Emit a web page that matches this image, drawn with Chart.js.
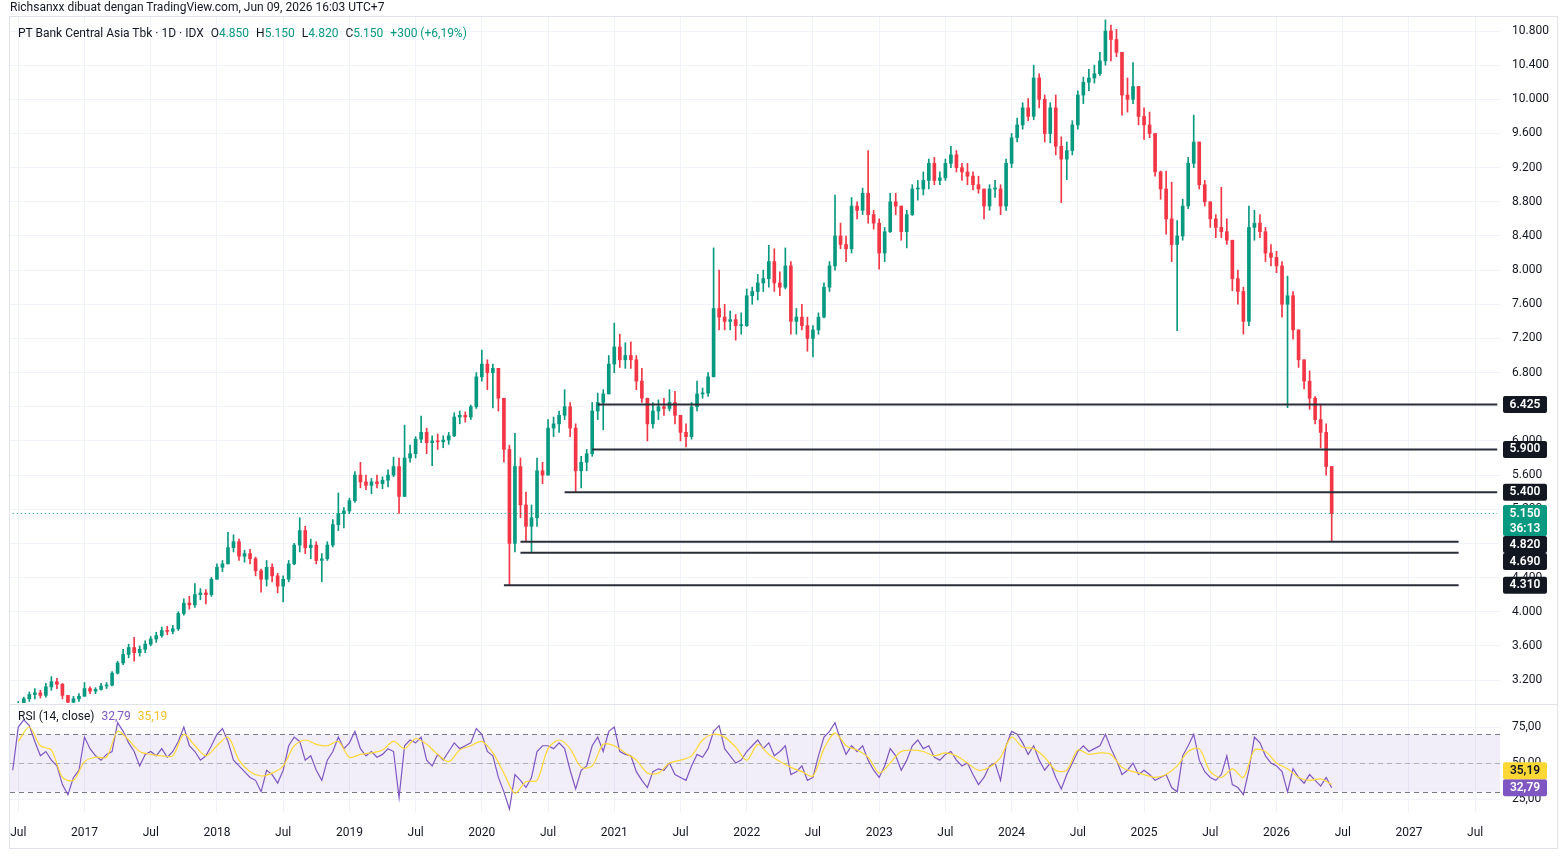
<!DOCTYPE html>
<html>
<head>
<meta charset="utf-8">
<script src="https://cdn.jsdelivr.net/npm/chart.js@4.4.1/dist/chart.umd.min.js"></script>
<style>
html, body { margin: 0; padding: 0; background: #fff; }
body { width: 1567px; height: 862px; position: relative; overflow: hidden;
       font-family: Roboto, "Noto Sans", sans-serif; color: #131722; }
.pane { position: absolute; left: 0; width: 1567px; }
#frame { position: absolute; left: 9px; top: 16px; width: 1549px; height: 833px;
         border: 1px solid #e0e3eb; box-sizing: border-box; }
#sep { position: absolute; left: 10px; top: 704px; width: 1547px; height: 1px; background: #e0e3eb; }
.txt { position: absolute; font-size: 12px; line-height: 14px; white-space: nowrap; z-index: 2; }
.txt span { margin-left: 7px; }
.up { color: #089981; }
</style>
</head>
<body>
<div id="frame"></div>
<div id="sep"></div>
<div class="pane" style="top:0;height:705px"><canvas id="priceChart"></canvas></div>
<div class="pane" style="top:700px;height:150px"><canvas id="rsiChart"></canvas></div>

<div class="txt" style="left:10px;top:0">Richsanxx dibuat dengan TradingView.com, Jun 09, 2026 16:03 UTC+7</div>
<div class="txt" style="left:18px;top:26px">PT Bank Central Asia Tbk · 1D · IDX<span>O<b class="up" style="font-weight:400">4.850</b></span><span>H<b class="up" style="font-weight:400">5.150</b></span><span>L<b class="up" style="font-weight:400">4.820</b></span><span>C<b class="up" style="font-weight:400">5.150</b></span><span class="up">+300 (+6,19%)</span></div>
<div class="txt" style="left:18px;top:709px">RSI (14, close)<span style="color:#7E57C2">32,79</span><span style="color:#F5C02B">35,19</span></div>

<script>
// half-month slots, Jun 2016 (2nd half) .. Jun 2026 (1st half)
const firstOpen = 2900;
const priceLow = [2820,
  2850, 2900, 2950, 2980, 2990, 3000, 3080, 3100, 2980, 2900, 2900, 2950,
  3020, 3040, 3040, 3080, 3100, 3130, 3270, 3380, 3460, 3420, 3480, 3520,
  3600, 3640, 3700, 3730, 3740, 3780, 3960, 4030, 4050, 4140, 4090, 4180,
  4380, 4470, 4560, 4700, 4600, 4580, 4560, 4420, 4230, 4300, 4350, 4220,
  4115, 4350, 4550, 4700, 4680, 4620, 4560, 4350, 4600, 4760, 4950, 4980,
  5150, 5280, 5450, 5430, 5380, 5450, 5440, 5460, 5580, 5150, 5400, 5750,
  5800, 5980, 5850, 5710, 5900, 5920, 5960, 6050, 6200, 6220, 6250, 6380,
  6700, 6600, 6385, 6350, 5750, 4310, 4700, 5100, 4820, 4690, 5000, 5500,
  5650, 6050, 6100, 6250, 6050, 5400, 5450, 5650, 5820, 6250, 6130, 6550,
  6800, 6860, 6850, 6850, 6600, 6450, 6000, 6150, 6250, 6300, 6350, 6200,
  6000, 5930, 6020, 6350, 6500, 6520, 6750, 7300, 7300, 7300, 7180, 7250,
  7340, 7600, 7650, 7750, 7800, 7750, 7700, 7780, 7250, 7250, 7300, 7050,
  6985, 7250, 7440, 7750, 8000, 8250, 8100, 8200, 8600, 8650, 8550, 8480,
  8010, 8100, 8440, 8650, 8350, 8260, 8640, 8820, 8880, 8950, 9000, 9000,
  9050, 9200, 9150, 9050, 9000, 8940, 8900, 8600, 8700, 8850, 8650, 8700,
  9200, 9500, 9650, 9750, 9760, 9900, 9500, 9490, 9350, 8790, 9060, 9350,
  9650, 9950, 10100, 10190, 10280, 10400, 10450, 10500, 9815, 9850, 9950, 9700,
  9530, 9550, 9100, 8830, 8420, 8100, 7290, 8350, 8720, 9200, 8950, 8750,
  8500, 8380, 8380, 8300, 7760, 7600, 7250, 7350, 8350, 8380, 8100, 8050,
  7970, 7450, 6390, 7190, 6860, 6610, 6370, 6200, 5920, 5600, 4820];
const priceHigh = [2920,
  2950, 3000, 3060, 3100, 3080, 3160, 3240, 3220, 3160, 3020, 3010, 3040,
  3170, 3120, 3110, 3160, 3170, 3300, 3420, 3560, 3620, 3700, 3600, 3660,
  3710, 3760, 3820, 3830, 3840, 4000, 4150, 4180, 4330, 4270, 4260, 4400,
  4560, 4600, 4930, 4900, 4850, 4720, 4730, 4640, 4500, 4600, 4560, 4450,
  4420, 4600, 4800, 5100, 5000, 4850, 4820, 4680, 4820, 5080, 5390, 5220,
  5330, 5640, 5750, 5600, 5560, 5600, 5580, 5660, 5810, 5800, 6185, 5950,
  6050, 6290, 6150, 6060, 6080, 6060, 6100, 6330, 6350, 6340, 6420, 6800,
  7065, 6950, 6900, 6850, 6500, 5950, 6090, 5800, 5400, 5250, 5800, 5750,
  6250, 6280, 6350, 6600, 6450, 6200, 5820, 5900, 6450, 6560, 6600, 7000,
  7380, 7250, 7150, 7160, 7000, 6850, 6500, 6450, 6480, 6500, 6600, 6580,
  6300, 6200, 6450, 6700, 6620, 6800, 8260, 8000, 7600, 7520, 7480, 7500,
  7780, 7800, 7950, 8000, 8290, 8250, 7980, 8260, 8100, 7550, 7600, 7450,
  7350, 7500, 7850, 8100, 8880, 8550, 8400, 8850, 8800, 8960, 9400, 8700,
  8600, 8500, 8900, 8900, 8750, 8700, 9000, 9050, 9150, 9300, 9320, 9150,
  9300, 9450, 9400, 9250, 9250, 9150, 9100, 8950, 9000, 9050, 9000, 9300,
  9600, 9780, 9960, 10010, 10400, 10300, 10050, 9960, 10050, 9560, 9500, 9750,
  10100, 10260, 10350, 10400, 10550, 10930, 10870, 10820, 10550, 10250, 10430, 10150,
  9900, 9850, 9600, 9160, 9160, 9030, 8580, 8830, 9320, 9815, 9500, 9050,
  8800, 8650, 8970, 8600, 8350, 8000, 7800, 8750, 8700, 8650, 8500, 8300,
  8220, 8100, 7930, 7750, 7300, 6950, 6820, 6520, 6430, 6200, 5700];
const priceClose = [2880,
  2920, 2980, 3030, 3050, 3020, 3120, 3180, 3150, 3020, 2940, 2980, 3010,
  3100, 3070, 3090, 3130, 3140, 3280, 3400, 3500, 3580, 3520, 3560, 3620,
  3680, 3720, 3780, 3770, 3800, 3980, 4100, 4080, 4200, 4220, 4200, 4380,
  4520, 4560, 4750, 4820, 4650, 4680, 4620, 4480, 4380, 4520, 4420, 4300,
  4380, 4560, 4780, 4950, 4750, 4780, 4600, 4620, 4780, 5020, 5150, 5180,
  5300, 5600, 5520, 5480, 5520, 5500, 5540, 5600, 5700, 5350, 5800, 5850,
  6020, 6100, 5980, 6000, 5990, 6010, 6060, 6280, 6300, 6280, 6400, 6750,
  6900, 6800, 6850, 6500, 5900, 4800, 5700, 5250, 5000, 5100, 5650, 5600,
  6150, 6200, 6300, 6400, 6150, 5650, 5750, 5850, 6350, 6450, 6550, 6900,
  7100, 6950, 7000, 6950, 6700, 6500, 6200, 6350, 6400, 6380, 6450, 6300,
  6100, 6050, 6400, 6550, 6560, 6750, 7550, 7450, 7400, 7420, 7350, 7350,
  7700, 7750, 7850, 7900, 8100, 7850, 7800, 8050, 7400, 7450, 7350, 7200,
  7300, 7450, 7800, 8050, 8400, 8300, 8250, 8750, 8700, 8900, 8650, 8550,
  8200, 8450, 8800, 8750, 8450, 8650, 8950, 8950, 9050, 9250, 9050, 9080,
  9250, 9350, 9200, 9150, 9100, 9000, 8950, 8750, 8950, 8950, 8750, 9250,
  9550, 9700, 9900, 9800, 10250, 10000, 9600, 9900, 9450, 9300, 9400, 9700,
  10050, 10200, 10250, 10300, 10450, 10800, 10700, 10550, 10050, 10000, 10150, 9800,
  9700, 9600, 9150, 8950, 8600, 8300, 8400, 8750, 9250, 9500, 9000, 8800,
  8600, 8500, 8450, 8350, 7900, 7750, 7400, 8500, 8550, 8450, 8200, 8150,
  8050, 7600, 7700, 7300, 6950, 6700, 6500, 6250, 6100, 5700, 5150];

const rsiValues = [45,
  75, 80, 76, 65, 55, 58, 52, 48, 35, 28, 40, 45,
  68, 60, 55, 52, 56, 58, 78, 72, 64, 58, 48, 56,
  58, 55, 60, 54, 58, 65, 75, 62, 58, 52, 55, 62,
  70, 74, 65, 52, 48, 44, 40, 38, 30, 45, 42, 36,
  45, 62, 68, 65, 52, 55, 45, 38, 52, 58, 68, 60,
  64, 72, 60, 55, 58, 54, 56, 60, 58, 26, 62, 66,
  64, 68, 52, 48, 56, 52, 58, 64, 60, 62, 64, 74,
  70, 58, 55, 40, 30, 18, 42, 38, 33, 40, 58, 62,
  62, 60, 64, 60, 45, 32, 45, 48, 62, 68, 58, 72,
  75, 58, 56, 55, 44, 38, 33, 44, 46, 45, 50, 42,
  40, 38, 48, 56, 54, 60, 72, 76, 60, 55, 50, 52,
  58, 62, 66, 60, 64, 55, 58, 62, 42, 44, 48, 38,
  40, 55, 68, 72, 78, 66, 56, 62, 58, 62, 52, 45,
  40, 48, 60, 55, 45, 52, 62, 66, 60, 62, 54, 52,
  56, 58, 52, 48, 50, 42, 35, 40, 48, 50, 38, 62,
  72, 70, 64, 56, 62, 52, 45, 50, 40, 32, 42, 50,
  58, 62, 58, 60, 62, 70, 60, 52, 42, 45, 50, 42,
  45, 42, 38, 40, 42, 33, 30, 55, 62, 70, 52, 44,
  40, 38, 42, 55, 35, 33, 28, 45, 68, 64, 55, 50,
  48, 44, 30, 46, 40, 36, 42, 38, 34, 40, 32.79];

// RSI moving average, one reading per month (Jul 2016 .. Jun 2026)
const rsiMA = [
  65, 75, 62, 59, 40, 38,   51, 54, 54, 72, 66, 58,
  56, 55, 55, 70, 62, 55,   62, 68, 52, 44, 41, 43,
  48, 62, 66, 63, 62, 65,   54, 56, 57, 59, 65, 60,
  67, 63, 56, 51, 59, 62,   65, 57, 43, 29, 37, 38,
  60, 66, 60, 47, 48, 63,   62, 57, 52, 43, 43, 50,
  52, 55, 66, 70, 68, 61,   52, 63, 56, 51, 47, 44,
  41, 60, 71, 62, 59, 54,   43, 50, 58, 59, 58, 55,
  57, 55, 50, 45, 47, 54,   68, 61, 60, 54, 45, 45,
  59, 56, 57, 56, 47, 44,   42, 40, 42, 48, 58, 60,
  44, 40, 46, 40, 59, 58,   50, 46, 40, 38, 39, 35.19];

// drawn horizontal levels
const levelPrices = [6425, 5900, 5400, 4820, 4690, 4310];
const levelStart = ['2020-11-16', '2020-11-01', '2020-08-16', '2020-04-16', '2020-04-16', '2020-03-01'];
const levelEnd = ['2027-09-01', '2027-09-01', '2027-09-01', '2027-05-16', '2027-05-16', '2027-05-16'];
const countdown = '36:13';

const priceTicks = [3200, 3600, 4000, 4400, 4800, 5200, 5600, 6000, 6400, 6800, 7200, 7600,
                    8000, 8400, 8800, 9200, 9600, 10000, 10400, 10800];
const rsiTicks = [25, 50, 75];
const rsiBand = [30, 70];
const rsiMid = 50;

const UP = '#089981';
const DOWN = '#F23645';
const GRID = '#f0f3fa';

// category slots: 1st and 16th of each month
const slotLabels = [];
for (let y = 2016; y <= 2027; y++) {
    for (let m = 1; m <= 12; m++) {
        ['01', '16'].forEach(d => {
            const key = y + '-' + String(m).padStart(2, '0') + '-' + d;
            if (key >= '2016-06-16' && key <= '2027-09-01') slotLabels.push(key);
        });
    }
}

function tickText(label) {
    if (!label || !label.endsWith('-01')) return '';
    const m = label.slice(5, 7);
    if (m === '01') return label.slice(0, 4);
    if (m === '07') return 'Jul';
    return '';
}

function fmtPrice(v) {
    return String(Math.round(v)).replace(/\B(?=(\d{3})+(?!\d))/g, '.');
}

function fmtRsi(v) {
    return v.toFixed(2).replace('.', ',');
}

const opens = priceClose.map((c, i) => i === 0 ? firstOpen : priceClose[i - 1]);
const wickData = priceLow.map((l, i) => [Math.min(l, opens[i], priceClose[i]), Math.max(priceHigh[i], opens[i], priceClose[i])]);
const bodyData = priceClose.map((c, i) => [opens[i], c]);
const candleColors = priceClose.map((c, i) => c >= opens[i] ? UP : DOWN);
const lastClose = priceClose[priceClose.length - 1];

Chart.defaults.font.family = 'Roboto, "Noto Sans", sans-serif';
Chart.defaults.font.size = 12;
Chart.defaults.color = '#131722';

function noPad(s) {
    s.paddingTop = 0;
    s.paddingBottom = 0;
    s.paddingLeft = 0;
    s.paddingRight = 0;
}

function xScale(showLabels) {
    return {
        type: 'category',
        offset: true,
        afterFit: s => { s.height = showLabels ? 38 : 0; noPad(s); },
        grid: {
            offset: false,
            drawTicks: false,
            color: c => tickText(slotLabels[c.index]) ? GRID : 'rgba(0,0,0,0)'
        },
        border: { display: false },
        ticks: {
            display: showLabels,
            autoSkip: false,
            maxRotation: 0,
            padding: 14,
            callback: (v, i) => tickText(slotLabels[i])
        }
    };
}

function yScale(min, max, tickValues, fmt) {
    return {
        position: 'right',
        min: min,
        max: max,
        afterBuildTicks: s => { s.ticks = tickValues.map(v => ({ value: v })); },
        afterFit: s => { s.width = 57; noPad(s); },
        grid: { color: GRID, drawTicks: false },
        border: { display: false },
        ticks: { padding: 12, callback: v => fmt(v) }
    };
}

function drawTag(ctx, top, h, bg, fg, lines) {
    ctx.save();
    ctx.fillStyle = bg;
    ctx.beginPath();
    ctx.roundRect(1503, top, 44, h, 2);
    ctx.fill();
    ctx.fillStyle = fg;
    ctx.font = '600 12px Roboto, "Noto Sans", sans-serif';
    ctx.textAlign = 'center';
    ctx.textBaseline = 'middle';
    lines.forEach((t, k) => ctx.fillText(t, 1525, top + 8.5 + k * 15));
    ctx.restore();
}

const priceTags = {
    id: 'priceTags',
    afterDraw(chart) {
        const y = chart.scales.y;
        const tags = levelPrices.map(p => ({ y: y.getPixelForValue(p), h: 17, bg: '#131722', lines: [fmtPrice(p)] }));
        tags.push({ y: y.getPixelForValue(lastClose), h: 31, bg: UP, lines: [fmtPrice(lastClose), countdown] });
        tags.sort((a, b) => a.y - b.y);
        let prevBottom = -Infinity;
        tags.forEach(t => {
            const top = Math.max(t.y - 8.5, prevBottom);
            prevBottom = top + t.h;
            drawTag(chart.ctx, top, t.h, t.bg, '#ffffff', t.lines);
        });
    }
};

const rsiDecor = {
    id: 'rsiDecor',
    beforeDatasetsDraw(chart) {
        const { ctx, chartArea: a, scales: { y } } = chart;
        const yTop = y.getPixelForValue(rsiBand[1]);
        const yBot = y.getPixelForValue(rsiBand[0]);
        ctx.save();
        ctx.fillStyle = 'rgba(126, 87, 194, 0.1)';
        ctx.fillRect(a.left, yTop, a.right - a.left, yBot - yTop);
        ctx.setLineDash([5, 4]);
        ctx.lineWidth = 1;
        [[rsiBand[1], '#787B86'], [rsiMid, 'rgba(120,123,134,0.5)'], [rsiBand[0], '#787B86']].forEach(([v, col]) => {
            const py = Math.round(y.getPixelForValue(v)) + 0.5;
            ctx.strokeStyle = col;
            ctx.beginPath();
            ctx.moveTo(a.left, py);
            ctx.lineTo(a.right, py);
            ctx.stroke();
        });
        ctx.restore();
    },
    afterDraw(chart) {
        const y = chart.scales.y;
        const rsiLast = rsiValues[rsiValues.length - 1];
        const maLast = rsiMA[rsiMA.length - 1];
        const rTop = y.getPixelForValue(rsiLast) - 8.5;
        let mTop = y.getPixelForValue(maLast) - 8.5;
        if (mTop + 17 > rTop && mTop < rTop + 17) mTop = rTop - 17;
        drawTag(chart.ctx, rTop, 17, '#7E57C2', '#ffffff', [fmtRsi(rsiLast)]);
        drawTag(chart.ctx, mTop, 17, '#FDD835', '#131722', [fmtRsi(maLast)]);
    }
};

const levelSets = levelPrices.map((p, i) => ({
    type: 'line',
    data: [{ x: levelStart[i], y: p }, { x: levelEnd[i], y: p }],
    borderColor: '#2a2e39',
    borderWidth: 2,
    pointRadius: 0,
    order: 0
}));

new Chart(document.getElementById('priceChart'), {
    type: 'bar',
    data: {
        labels: slotLabels,
        datasets: [
            {
                type: 'line',
                data: [{ x: slotLabels[0], y: lastClose }, { x: slotLabels[slotLabels.length - 1], y: lastClose }],
                borderColor: UP,
                borderWidth: 1,
                borderDash: [1, 3],
                pointRadius: 0,
                order: 0
            },
            ...levelSets,
            { data: bodyData, backgroundColor: candleColors, barThickness: 3, minBarLength: 1, grouped: false, order: 1 },
            { data: wickData, backgroundColor: candleColors, barThickness: 1, grouped: false, order: 2 }
        ]
    },
    options: {
        responsive: true,
        maintainAspectRatio: false,
        animation: false,
        devicePixelRatio: 1,
        layout: { padding: { left: 10, right: 10, top: 17, bottom: 2 } },
        plugins: { legend: { display: false }, tooltip: { enabled: false } },
        scales: {
            x: xScale(false),
            y: yScale(2931, 10964, priceTicks, fmtPrice)
        }
    },
    plugins: [priceTags]
});

const monthStarts = slotLabels.filter(s => s.endsWith('-01')).slice(0, rsiMA.length);

new Chart(document.getElementById('rsiChart'), {
    type: 'line',
    data: {
        labels: slotLabels,
        datasets: [
            { data: rsiMA.map((v, i) => ({ x: monthStarts[i], y: v })), borderColor: '#FDD835', borderWidth: 1.2, pointRadius: 0, tension: 0.3, order: 0 },
            { data: rsiValues, borderColor: '#7E57C2', borderWidth: 1.2, pointRadius: 0, tension: 0, order: 1 }
        ]
    },
    options: {
        responsive: true,
        maintainAspectRatio: false,
        animation: false,
        devicePixelRatio: 1,
        layout: { padding: { left: 10, right: 10, top: 5, bottom: 0 } },
        plugins: { legend: { display: false }, tooltip: { enabled: false } },
        scales: {
            x: xScale(true),
            y: yScale(16, 90.3, rsiTicks, fmtRsi)
        }
    },
    plugins: [rsiDecor]
});
</script>
</body>
</html>
